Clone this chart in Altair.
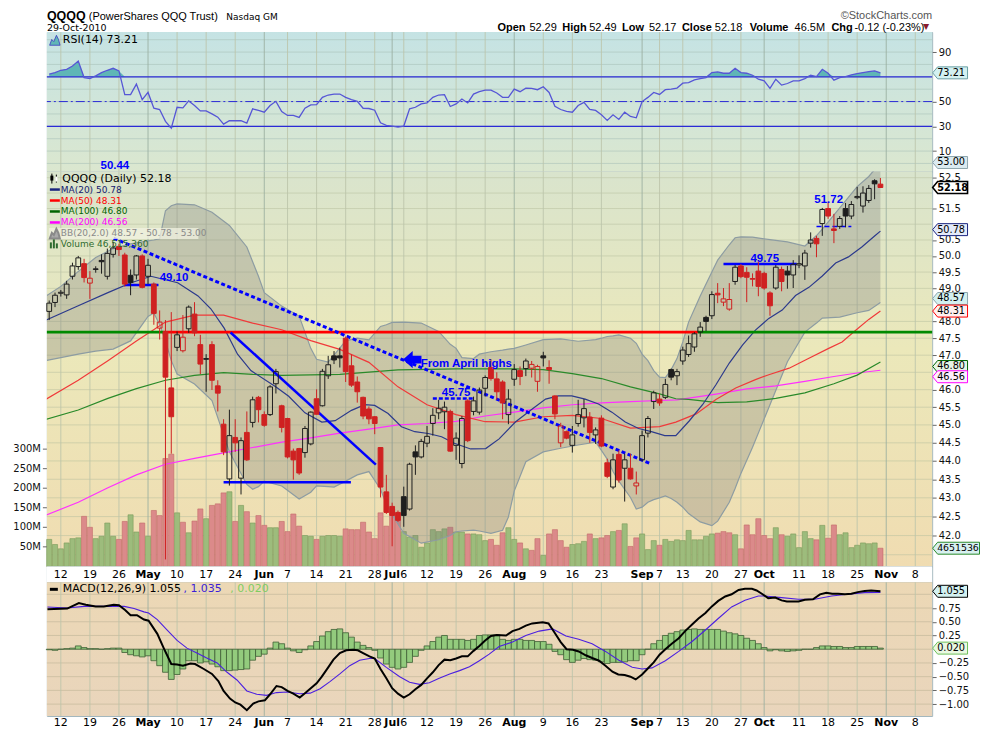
import math
import altair as alt
import numpy as np
import pandas as pd

# ===================== values =====================
# trading-day index: 0 = Mon 12-Apr-2010, first bar (-2) = 8-Apr-2010, last (141) = 29-Oct-2010
FIRST_DAY = -2

opens = [48.30, 48.57, 48.85, 48.80, 49.37, 49.67, 49.76, 49.16, 49.60, 49.86,
         49.37, 50.05, 50.30, 50.03, 49.40, 49.41, 50.00, 49.37, 49.13, 47.80,
         47.70, 46.05, 47.23, 47.13, 47.78, 48.22, 47.31, 46.90, 47.31, 46.11,
         45.02, 43.51, 44.65, 43.53, 44.79, 45.07, 45.78, 45.29, 45.29, 46.17,
         45.54, 45.18, 44.27, 44.34, 44.23, 44.47, 45.74, 45.54, 46.40, 46.98,
         46.98, 47.50, 46.69, 46.22, 45.78, 45.45, 45.23, 44.37, 43.16, 42.77,
         42.61, 43.03, 42.70, 44.25, 44.11, 44.49, 45.04, 45.34, 45.37, 45.38,
         44.43, 43.93, 45.68, 45.38, 45.36, 46.04, 46.64, 46.31, 46.22, 45.29,
         46.30, 46.55, 46.61, 46.62, 46.24, 46.98, 46.64, 45.82, 44.50, 44.81,
         44.43, 45.04, 45.20, 45.22, 44.72, 45.19, 43.95, 43.29, 44.18, 43.80,
         43.80, 43.32, 44.03, 44.77, 45.66, 45.73, 45.78, 46.58, 46.40, 46.83,
         47.02, 47.24, 47.68, 48.12, 48.17, 48.85, 48.58, 48.37, 49.21, 49.69,
         49.49, 49.30, 49.53, 49.46, 48.86, 49.01, 49.58, 49.53, 49.41, 49.72,
         49.69, 50.40, 50.55, 51.02, 51.50, 50.85, 50.93, 51.50, 51.26, 51.85,
         51.58, 51.76, 52.40, 52.29]
highs = [48.63, 48.87, 48.95, 49.23, 49.79, 50.00, 49.91, 49.53, 49.68, 50.05,
         50.23, 50.44, 50.38, 50.10, 49.58, 50.03, 50.05, 49.91, 49.18, 48.33,
         48.04, 48.28, 47.70, 48.19, 48.48, 48.58, 47.60, 47.03, 47.41, 46.27,
         45.16, 45.43, 45.16, 44.65, 45.38, 45.80, 45.82, 45.38, 46.13, 46.60,
         45.57, 45.20, 44.34, 44.36, 44.97, 45.38, 46.01, 46.60, 46.98, 47.12,
         47.22, 47.55, 47.02, 46.38, 45.80, 45.52, 45.25, 44.38, 43.62, 42.87,
         42.66, 43.30, 43.95, 44.43, 44.61, 44.97, 45.47, 45.71, 45.66, 45.43,
         44.79, 45.25, 45.73, 45.80, 46.06, 46.41, 46.88, 46.50, 46.27, 46.01,
         46.74, 46.67, 46.90, 46.83, 46.72, 47.10, 46.85, 45.84, 45.06, 44.84,
         44.97, 45.71, 45.73, 45.36, 44.93, 45.27, 44.06, 44.20, 44.29, 44.20,
         44.20, 43.71, 44.84, 45.25, 45.97, 45.89, 46.31, 46.61, 46.60, 47.25,
         47.58, 47.68, 47.98, 48.17, 48.91, 49.16, 49.01, 49.16, 49.72, 49.75,
         49.65, 49.46, 49.87, 49.51, 48.91, 49.72, 49.67, 49.69, 49.87, 50.02,
         50.19, 50.74, 50.63, 51.52, 51.72, 51.33, 51.26, 51.68, 51.74, 52.20,
         52.22, 52.26, 52.45, 52.49]
lows = [48.04, 48.43, 48.75, 48.68, 49.27, 49.57, 49.18, 48.68, 49.48, 49.45,
        49.27, 49.95, 50.00, 49.05, 48.79, 49.27, 49.00, 49.13, 47.90, 47.46,
        41.38, 44.20, 47.12, 47.08, 47.66, 47.56, 46.45, 45.94, 45.99, 45.38,
        44.16, 43.33, 44.25, 43.09, 44.00, 44.93, 45.07, 44.95, 45.25, 45.89,
        44.79, 44.07, 43.49, 43.62, 44.09, 44.43, 45.29, 45.52, 46.31, 46.74,
        46.64, 46.22, 46.08, 45.63, 45.16, 45.02, 44.74, 43.01, 42.57, 41.72,
        42.36, 42.23, 42.66, 43.62, 44.07, 44.38, 44.70, 45.16, 44.88, 44.25,
        44.03, 43.80, 44.52, 45.27, 45.29, 45.80, 46.26, 45.71, 45.16, 45.02,
        46.11, 46.13, 46.39, 46.35, 45.94, 46.67, 46.17, 45.16, 44.38, 44.60,
        44.23, 44.95, 44.93, 44.50, 44.47, 44.38, 43.53, 43.23, 43.41, 42.90,
        43.49, 43.09, 43.99, 44.65, 45.45, 45.54, 45.73, 46.27, 46.13, 46.72,
        46.95, 47.10, 47.54, 47.71, 48.07, 48.55, 48.46, 48.32, 49.11, 49.31,
        48.58, 49.06, 48.76, 48.96, 48.17, 48.96, 48.91, 48.99, 49.01, 49.62,
        49.26, 50.26, 49.96, 50.63, 51.17, 50.40, 50.85, 50.90, 51.16, 51.80,
        51.37, 51.68, 51.80, 52.17]
closes = [48.55, 48.79, 48.88, 49.13, 49.69, 49.94, 49.33, 49.31, 49.58, 49.82,
          50.08, 50.25, 50.20, 49.13, 49.18, 50.00, 49.03, 49.71, 48.24, 47.98,
          46.36, 45.23, 47.60, 47.53, 48.43, 47.66, 46.74, 46.88, 46.27, 45.90,
          44.25, 44.70, 44.50, 44.56, 44.03, 45.71, 45.43, 44.99, 46.08, 46.52,
          44.93, 44.11, 44.03, 43.67, 44.90, 45.36, 45.30, 46.53, 46.72, 46.86,
          46.92, 46.52, 46.13, 45.94, 45.25, 45.17, 45.04, 43.29, 42.61, 42.53,
          42.40, 42.53, 43.91, 44.11, 44.54, 44.68, 45.27, 45.47, 45.50, 44.27,
          44.63, 45.18, 44.56, 45.68, 45.99, 46.35, 46.32, 45.94, 45.62, 45.73,
          46.58, 46.38, 46.83, 46.73, 46.67, 46.92, 46.58, 45.31, 44.97, 44.63,
          44.72, 45.29, 45.46, 44.79, 44.86, 44.41, 43.58, 44.03, 43.48, 44.03,
          43.51, 43.40, 44.70, 45.18, 45.91, 45.62, 46.15, 46.36, 46.52, 47.15,
          47.34, 47.63, 47.83, 48.00, 48.81, 48.80, 48.68, 48.66, 49.65, 49.36,
          49.34, 49.28, 49.06, 49.01, 48.47, 49.65, 49.21, 49.41, 49.74, 49.76,
          50.09, 50.50, 50.38, 51.47, 51.26, 50.80, 51.18, 51.26, 51.63, 51.89,
          52.00, 52.15, 52.30, 52.18]
volumes_m = [69, 56, 45, 60, 71, 73, 128, 100, 71, 77,
             111, 77, 69, 115, 132, 88, 111, 77, 143, 130,
             276, 287, 137, 113, 86, 116, 147, 122, 156, 160,
             188, 191, 115, 156, 140, 111, 130, 105, 99, 99,
             115, 89, 134, 103, 79, 77, 69, 77, 79, 79,
             77, 96, 94, 94, 113, 88, 71, 137, 103, 147,
             126, 89, 75, 79, 49, 60, 94, 89, 96, 100,
             88, 88, 83, 83, 81, 66, 69, 54, 86, 99,
             69, 60, 45, 41, 71, 28, 83, 94, 66, 49,
             56, 58, 64, 83, 71, 73, 79, 89, 92, 109,
             51, 73, 83, 43, 66, 54, 69, 64, 68, 66,
             92, 68, 68, 77, 83, 85, 89, 86, 81, 45,
             106, 81, 122, 79, 71, 99, 81, 77, 83, 48,
             89, 71, 68, 105, 72, 106, 81, 86, 48, 54,
             60, 58, 60, 46.5]
rsi14 = [72.1, 73.4, 75.3, 76.1, 78.8, 82.8, 69.4, 68.6, 70.8, 73.4,
         75.3, 76.9, 74.8, 55.6, 55.6, 64.1, 51.6, 57.4, 44.6, 43.6,
         34.0, 28.6, 45.4, 44.9, 50.5, 46.8, 42.5, 42.5, 40.1, 37.4,
         31.8, 34.5, 34.5, 34.5, 32.6, 44.1, 42.8, 41.4, 46.8, 50.2,
         42.0, 38.8, 38.8, 37.2, 44.6, 47.3, 47.6, 53.4, 55.3, 56.1,
         56.1, 53.4, 51.6, 50.2, 44.6, 44.4, 43.0, 32.9, 30.8, 30.2,
         29.4, 30.2, 44.1, 45.4, 48.1, 48.9, 53.4, 55.3, 55.6, 46.0,
         48.1, 52.1, 48.9, 56.1, 58.0, 59.3, 59.3, 56.9, 53.4, 53.4,
         60.1, 58.0, 60.9, 60.6, 59.6, 62.0, 57.4, 46.2, 43.6, 42.0,
         41.4, 46.8, 49.4, 43.6, 42.8, 39.3, 34.8, 39.3, 35.6, 41.4,
         38.0, 36.9, 50.0, 53.4, 57.4, 55.8, 59.6, 60.1, 60.9, 64.9,
         65.4, 67.6, 68.6, 69.4, 73.4, 74.0, 72.9, 72.9, 76.9, 73.4,
         72.9, 71.3, 68.1, 66.8, 60.6, 68.1, 63.3, 64.6, 66.8, 66.8,
         68.6, 71.3, 70.2, 76.1, 72.9, 67.3, 69.4, 70.2, 71.6, 72.6,
         73.4, 74.2, 74.8, 73.21]
macd_hist = [-0.01, -0.02, 0.00, 0.01, 0.02, 0.06, 0.03, 0.01, 0.01, 0.00,
             0.01, 0.02, 0.02, -0.06, -0.10, -0.12, -0.14, -0.12, -0.21, -0.30,
             -0.42, -0.55, -0.46, -0.36, -0.21, -0.21, -0.25, -0.23, -0.27, -0.32,
             -0.39, -0.39, -0.38, -0.37, -0.36, -0.20, -0.13, -0.09, 0.02, 0.13,
             0.10, 0.02, -0.03, -0.06, -0.01, 0.06, 0.14, 0.24, 0.32, 0.36,
             0.37, 0.30, 0.22, 0.13, 0.07, 0.03, -0.02, -0.16, -0.27, -0.33,
             -0.36, -0.33, -0.24, -0.13, -0.02, 0.06, 0.14, 0.22, 0.25, 0.18,
             0.18, 0.18, 0.16, 0.18, 0.25, 0.26, 0.26, 0.26, 0.18, 0.16,
             0.18, 0.18, 0.16, 0.16, 0.14, 0.14, 0.09, -0.04, -0.10, -0.19,
             -0.24, -0.20, -0.17, -0.19, -0.20, -0.23, -0.26, -0.24, -0.24, -0.23,
             -0.21, -0.21, -0.10, 0.00, 0.10, 0.16, 0.25, 0.29, 0.32, 0.35,
             0.36, 0.37, 0.36, 0.36, 0.36, 0.36, 0.33, 0.30, 0.28, 0.25,
             0.20, 0.16, 0.10, 0.03, -0.03, -0.01, -0.03, -0.04, -0.03, -0.02,
             0.00, 0.00, 0.03, 0.06, 0.06, 0.05, 0.05, 0.03, 0.03, 0.05,
             0.05, 0.05, 0.05, 0.02]
macd_line = [(-2.3, 0.73), (1.1, 0.74), (3.1, 0.84), (4.3, 0.81), (6, 0.78), (7.4, 0.78), (9.1, 0.81),
             (10, 0.80), (11.1, 0.71), (12, 0.62), (13.1, 0.62), (14.3, 0.54), (15.1, 0.52), (16.6, 0.28),
             (17.7, 0.02), (19, -0.27), (20, -0.28), (21, -0.30), (22.3, -0.26), (23.1, -0.27), (24.6, -0.36),
             (26, -0.45), (27.1, -0.58), (28, -0.76), (29.1, -0.90), (30, -0.97), (30.9, -1.01), (32, -1.11),
             (33.1, -0.99), (34, -0.95), (35.1, -0.93), (36, -0.82), (37.1, -0.67), (38, -0.69), (39, -0.76),
             (40, -0.81), (41.1, -0.88), (42, -0.80), (43, -0.71), (44, -0.62), (44.9, -0.50), (46, -0.33),
             (46.9, -0.19), (48, -0.07), (49.1, -0.02), (50.3, -0.01), (51.1, -0.02), (52, -0.07), (53.1, -0.13),
             (54, -0.17), (55, -0.36), (56, -0.53), (57, -0.71), (58, -0.81), (59, -0.88), (60, -0.82),
             (61, -0.73), (62, -0.65), (63, -0.53), (64, -0.42), (65, -0.29), (66, -0.19), (67, -0.20),
             (68, -0.17), (69, -0.13), (70, -0.13), (71, -0.03), (72, 0.06), (73, 0.16), (74, 0.24),
             (75, 0.26), (76.6, 0.25), (77.7, 0.33), (78.9, 0.37), (80, 0.43), (81.1, 0.47), (82.9, 0.49),
             (83.9, 0.47), (84.9, 0.31), (86, 0.13), (87, 0.00), (88.1, -0.01), (89.1, -0.04), (90.3, -0.11),
             (91.4, -0.16), (92.6, -0.21), (93.7, -0.30), (94.9, -0.41), (95.9, -0.46), (97, -0.47), (98, -0.50),
             (98.9, -0.55), (100, -0.46), (100.9, -0.36), (102, -0.24), (103, -0.10), (104, 0.00), (105.1, 0.10),
             (106.3, 0.20), (107.4, 0.33), (108.6, 0.45), (109.7, 0.56), (110.9, 0.66), (112, 0.78), (113.1, 0.88),
             (114.3, 0.96), (115.4, 1.00), (116.6, 1.08), (117.7, 1.10), (118.9, 1.10), (119.7, 1.07), (120.6, 1.01),
             (121.7, 0.93), (122.9, 0.94), (124, 0.89), (124.9, 0.87), (126.9, 0.87), (128, 0.90), (129.4, 0.91),
             (130.6, 1.00), (131.7, 1.03), (132.7, 1.01), (133.7, 1.01), (134.9, 1.00), (136, 1.01), (137.1, 1.04),
             (138.3, 1.06), (139.4, 1.07), (141, 1.055)]
macd_signal = [(-2.3, 0.77), (1.1, 0.75), (4, 0.78), (6.9, 0.78), (9.4, 0.78), (10.9, 0.78), (12.6, 0.74),
               (14.3, 0.68), (15.1, 0.66), (16.6, 0.54), (18.3, 0.35), (20, 0.16), (21.7, 0.02), (23.4, -0.07),
               (25.1, -0.16), (26.9, -0.25), (28.6, -0.42), (30.3, -0.56), (32, -0.76), (33.7, -0.82), (35.4, -0.84),
               (37.1, -0.79), (38.9, -0.78), (41.1, -0.81), (42.9, -0.80), (44.6, -0.72), (46.3, -0.59), (48, -0.45),
               (49.7, -0.30), (51.4, -0.20), (53.1, -0.17), (54, -0.17), (56, -0.33), (58.3, -0.50), (60, -0.60),
               (61.7, -0.64), (63.4, -0.61), (65.1, -0.53), (66.9, -0.45), (68.6, -0.39), (70.3, -0.32), (72, -0.21),
               (73.7, -0.09), (75.4, 0.05), (77.7, 0.13), (80, 0.25), (82.3, 0.33), (84.6, 0.37), (86.9, 0.24),
               (89.1, 0.18), (91.4, 0.10), (93.7, -0.04), (96, -0.20), (98.3, -0.33), (100, -0.36), (101.7, -0.34),
               (104, -0.21), (106.3, -0.04), (108.6, 0.14), (110.9, 0.35), (113.1, 0.56), (115.4, 0.77), (117.7, 0.89),
               (120, 0.97), (121.1, 0.97), (124, 0.94), (126.9, 0.91), (129.7, 0.91), (132.6, 0.97), (135.4, 1.00),
               (138.3, 1.03), (141, 1.035)]
ma20 = [(-2.7, 48.03), (3, 48.47), (8.1, 48.87), (12.1, 49.17), (15.5, 49.37), (20.1, 49.17), (23.6, 48.77),
        (25.8, 48.38), (28.1, 47.80), (30.4, 47.03), (32.7, 46.55), (36.9, 46.09), (39.2, 45.81), (42, 45.34),
        (44.9, 45.08), (47.2, 45.12), (50, 45.41), (52.3, 45.57), (54, 45.55), (56.3, 45.32), (58.6, 44.95),
        (60.9, 44.81), (63.2, 44.76), (65.5, 44.67), (67.7, 44.49), (70.5, 44.33), (73.1, 44.34), (75.4, 44.61),
        (78.2, 45.08), (81.1, 45.45), (83.4, 45.73), (85.6, 45.82), (87.9, 45.82), (90.2, 45.73), (92.5, 45.59),
        (94.8, 45.36), (97.1, 45.08), (99.4, 44.90), (101.6, 44.81), (103.9, 44.70), (105.8, 44.70), (108.1, 45.11),
        (110.4, 45.57), (112.7, 46.14), (115, 46.77), (117.3, 47.30), (119.5, 47.74), (121.8, 48.09), (124.1, 48.34),
        (126.4, 48.78), (128.7, 49.03), (131, 49.38), (133.3, 49.78), (135.5, 49.97), (137.8, 50.28), (140.1, 50.64),
        (141, 50.78)]
ma50 = [(-2.7, 45.71), (3, 46.27), (8.1, 46.84), (13, 47.42), (18, 47.98), (23, 48.19), (28, 48.19), (33, 47.95),
        (38, 47.75), (43, 47.43), (48, 47.17), (53, 46.79), (58, 46.08), (63, 45.57), (68, 45.29), (73, 45.09),
        (78, 45.08), (83, 45.23), (88, 45.27), (93, 45.18), (98, 44.91), (103, 44.95), (105.8, 45.08), (109.3, 45.31),
        (112.7, 45.72), (116.1, 46.05), (119.5, 46.29), (121.8, 46.43), (125.3, 46.62), (128.7, 46.91), (132.1, 47.20),
        (134.4, 47.39), (136.7, 47.73), (139, 48.06), (141, 48.31)]
ma100 = [(-2.7, 45.15), (3, 45.42), (8.1, 45.75), (13, 46.03), (18, 46.27), (23, 46.41), (28, 46.49), (33, 46.44),
         (38, 46.41), (48, 46.44), (58, 46.57), (68, 46.60), (78, 46.60), (83, 46.58), (88, 46.46), (93, 46.32),
         (98, 46.08), (103, 45.88), (105.8, 45.74), (108, 45.72), (113, 45.63), (118, 45.65), (123, 45.75),
         (128, 45.91), (133, 46.17), (137, 46.42), (141, 46.80)]
ma200 = [(-2.7, 42.53), (3, 42.88), (8.1, 43.27), (13, 43.62), (18, 43.91), (23, 44.07), (28, 44.22), (33, 44.37),
         (38, 44.52), (43, 44.64), (48, 44.77), (53, 44.88), (58, 45.00), (63, 45.04), (68, 45.10), (73, 45.25),
         (78, 45.36), (83, 45.48), (88, 45.57), (93, 45.62), (98, 45.66), (103, 45.69), (106, 45.71), (113, 45.88),
         (118, 46.02), (123, 46.11), (128, 46.24), (133, 46.38), (137, 46.48), (141, 46.56)]
bb_index = [-2.4, 0, 3, 6, 9, 12, 15, 16, 17, 18, 19, 20, 23, 26, 29, 32, 33, 34, 35, 38,
            41, 43, 44, 46, 47, 49, 51, 53, 55, 56, 57, 59, 62, 65, 67, 68, 69, 71, 72, 74,
            76, 77, 78, 80, 83, 86, 89, 92, 93, 94, 95, 96, 98, 99, 100, 101, 102, 103, 104, 105,
            106, 107, 108, 110, 112, 113, 115, 116, 117, 119, 122, 125, 128, 130, 131, 134, 137, 139, 141]
bb_upper = [48.78, 49.06, 49.52, 49.95, 50.23, 50.38, 50.47, 50.50, 50.54, 51.43, 51.59, 51.65, 51.62, 51.38,
            50.96, 50.28, 49.82, 49.37, 48.87, 48.46, 48.16, 47.20, 46.88, 46.80, 47.00, 47.42, 47.50, 47.45,
            47.85, 47.90, 47.97, 47.98, 47.95, 47.70, 47.32, 47.20, 46.93, 46.90, 47.03, 47.10, 47.15, 47.18,
            47.20, 47.30, 47.46, 47.48, 47.41, 47.46, 47.50, 47.55, 47.57, 47.60, 47.50, 47.35, 47.03, 46.84,
            46.55, 46.36, 46.35, 46.58, 46.90, 47.39, 47.98, 48.77, 49.50, 49.87, 50.35, 50.57, 50.60, 50.59,
            50.51, 50.44, 50.31, 50.64, 50.84, 51.52, 52.21, 52.54, 53.00]
bb_lower = [46.85, 46.93, 47.03, 47.12, 47.18, 47.42, 48.15, 48.25, 47.90, 47.42, 46.84, 46.45, 46.16, 45.69,
            44.25, 43.36, 43.23, 43.30, 43.45, 43.32, 42.97, 43.15, 43.32, 43.30, 43.29, 43.45, 43.62, 43.71,
            43.23, 42.83, 42.55, 42.06, 41.80, 41.89, 42.00, 42.10, 42.12, 42.14, 42.12, 42.06, 42.14, 42.49,
            43.18, 43.98, 44.25, 44.35, 44.44, 44.52, 44.29, 44.05, 43.71, 43.45, 43.01, 42.70, 42.75, 42.88,
            42.95, 43.00, 43.05, 42.98, 42.88, 42.75, 42.58, 42.36, 42.26, 42.38, 42.88, 43.25, 43.66, 44.38,
            45.57, 46.81, 47.68, 47.95, 48.10, 48.13, 48.26, 48.33, 48.57]
# horizontal resistance / support line at 47.68 : colour changes along the way
hline_level = 47.68
hline_from = [-2.4, 17.7, 109.6]
hline_to = [17.7, 109.6, 149.9]
hline_color = ["green", "red", "green"]
# hand drawn annotations (trading-day index, price)
trend_dashed = [(9.1, 50.55), (101.5, 43.92)]
trend_solid = [(29.2, 47.67), (54.2, 43.90)]
support_line = [(28.0, 43.42), (49.9, 43.42)]
level_4910 = [(11.0, 49.10), (16.8, 49.10)]
level_4575 = [(64.0, 45.75), (71.0, 45.75)]
level_4975 = [(114.0, 49.75), (126.6, 49.75)]
level_5172 = [(130.0, 50.93), (136.0, 50.93)]
note_texts = ["50.44", "45.75", "49.75", "51.72"]
note_index = [9.3, 68.0, 121.1, 132.1]
note_price = [52.87, 45.89, 49.89, 51.78]
# x-axis ticks
tick_index = [0, 5, 10, 15, 20, 25, 30, 35, 39, 44, 49, 54, 57, 59, 63, 68, 73, 78, 83, 88, 93,
              100, 103, 107, 112, 117, 121, 127, 132, 137, 142, 147]
tick_text = ["12", "19", "26", "May", "10", "17", "24", "Jun", "7", "14", "21", "28", "Jul", "6",
             "12", "19", "26", "Aug", "9", "16", "23", "Sep", "7", "13", "20", "27", "Oct", "11",
             "18", "25", "Nov", "8"]
month_names = ["May", "Jun", "Jul", "Aug", "Sep", "Oct", "Nov"]
# grid lines and the axis labels that stay visible (the others sit under the value tags)
rsi_grid = [0, 10, 20, 30, 40, 50, 60, 70, 80, 90, 100]
rsi_labels = [10, 30, 50, 90]
price_grid = [41.5, 42.0, 42.5, 43.0, 43.5, 44.0, 44.5, 45.0, 45.5, 46.0, 46.5, 47.0, 47.5,
              48.0, 48.5, 49.0, 49.5, 50.0, 50.5, 51.0, 51.5, 52.0, 52.5]
price_labels = [42.0, 42.5, 43.0, 43.5, 44.0, 44.5, 45.0, 45.5, 46.0, 47.0, 47.5,
                48.0, 49.0, 49.5, 50.0, 50.5, 51.5, 52.5]
volume_ticks = [50, 100, 150, 200, 250, 300]
macd_grid = [-1.0, -0.75, -0.5, -0.25, 0.0, 0.25, 0.5, 0.75, 1.0]
macd_labels = [-1.0, -0.75, -0.5, -0.25, 0.25, 0.5, 0.75]
# last values shown in the legends / value tags
rsi_last = 73.21
bb_last = [48.57, 50.78, 53.00]
ma_last = [50.78, 48.31, 46.80, 46.56]
close_last = 52.18
volume_last_m = 46.515360
macd_last = [1.055, 1.035, 0.020]

# ===================== layout =====================
W = 888
H_RSI, H_PRICE, H_STRIP, H_MACD = 140, 396, 16, 134
P_LO, P_HI = 41.2, 52.7
VOL_TOP = 1010.0
XS = alt.Scale(domain=[-2.4, 149.9], nice=False, zero=False)
SCALES = {
    "rsi": alt.Scale(domain=[-6.6, 106.2], nice=False, zero=False),
    "price": alt.Scale(type="log", domain=[P_LO, P_HI], nice=False, zero=False),
    "macd": alt.Scale(domain=[-1.215, 1.218], nice=False, zero=False),
}
AXIS_KW = dict(orient="right", tickSize=4, labelPadding=2, grid=False, domain=False, title=None,
               labelFont="DejaVu Sans", labelFontSize=10, labelColor="#111111", tickColor="#666666")
AXES = {
    "rsi": alt.Axis(values=rsi_labels, format="d", **AXIS_KW),
    "price": alt.Axis(values=price_labels, format=".1f", **AXIS_KW),
    "macd": alt.Axis(values=macd_labels, format=".2f", **AXIS_KW),
}
# volume is drawn in the lower part of the price panel: linear in pixels -> mapped onto the log price scale
VOL_EXPR = f"{P_LO}*exp(datum.v/{VOL_TOP}*{math.log(P_HI / P_LO)})"
ONE = pd.DataFrame({"k": [0]})
SANS = "DejaVu Sans"
ARIAL = "Liberation Sans"


def xq(field="i"):
    return alt.X(f"{field}:Q", scale=XS, axis=None)


def yq(field, panel):
    return alt.Y(f"{field}:Q", scale=SCALES[panel], axis=AXES[panel])


def text(s, x, y, size=11, color="#000000", weight="normal", font=SANS, align="left", baseline="middle"):
    return alt.Chart(ONE).mark_text(text=s, fontSize=size, color=color, fontWeight=weight, font=font,
                                    align=align, baseline=baseline).encode(x=alt.value(x), y=alt.value(y))


def hrule(x0, x1, y, color, width=2.5):
    return alt.Chart(ONE).mark_rule(color=color, strokeWidth=width).encode(
        x=alt.value(x0), x2=alt.value(x1), y=alt.value(y))


def vrule(x, y0, y1, color, width=1.0):
    return alt.Chart(ONE).mark_rule(color=color, strokeWidth=width).encode(
        x=alt.value(x), y=alt.value(y0), y2=alt.value(y1))


def background(h, stops):
    grad = alt.LinearGradient(gradient="linear", x1=0, y1=0, x2=0, y2=1,
                              stops=[alt.GradientStop(offset=o, color=c) for o, c in stops])
    return alt.Chart(ONE).mark_rect(color=grad).encode(
        x=alt.value(0), x2=alt.value(W), y=alt.value(0), y2=alt.value(h))


ticks_df = pd.DataFrame({"i": tick_index, "t": tick_text})
ticks_df["month"] = ticks_df["t"].isin(month_names)
ticks_df["gcol"] = np.where(ticks_df["month"], "#9aae9f", "#bcc4aa")


def vgrid():
    return alt.Chart(ticks_df).mark_rule(strokeWidth=1, opacity=0.85).encode(
        x=xq(), color=alt.Color("gcol:N", scale=None))


def hgrid(values, panel, color, opacity):
    return alt.Chart(pd.DataFrame({"g": values})).mark_rule(color=color, strokeWidth=1, opacity=opacity).encode(
        y=yq("g", panel))


def xlabels(y):
    normal = alt.Chart(ticks_df[~ticks_df["month"]]).mark_text(
        font=SANS, fontSize=11, baseline="middle", color="#000000").encode(x=xq(), y=alt.value(y), text="t:N")
    bold = alt.Chart(ticks_df[ticks_df["month"]]).mark_text(
        font=SANS, fontSize=11, fontWeight="bold", baseline="middle", color="#000000").encode(
        x=xq(), y=alt.value(y), text="t:N")
    return [normal, bold]


SMALL_TAG = "M-1,0L-0.714,-0.343L1,-0.343L1,0.343L-0.714,0.343Z"
WIDE_TAG = "M-1,0L-0.787,-0.255L1,-0.255L1,0.255L-0.787,0.255Z"


def tag(value, label, panel, fill, stroke, bold=False, wide=False, tcolor="#000000", volume=False, shift=0.0):
    d = pd.DataFrame({"v": [value], "t": [label]})
    if wide:
        path, size, cx = WIDE_TAG, 47 * 47, W + 24
    else:
        path, size, cx = SMALL_TAG, 35 * 35, W + 18
    if volume:
        base = alt.Chart(d).transform_calculate(vp=VOL_EXPR).encode(y=yq("vp", panel))
    else:
        base = alt.Chart(d).encode(y=yq("v", panel))
    shape = base.mark_point(shape=path, size=size, filled=True, fill=fill, stroke=stroke, opacity=1,
                            strokeWidth=1.6 if bold else 1, yOffset=shift).encode(x=alt.value(cx))
    lab = base.mark_text(align="left", baseline="middle", font=SANS, fontSize=9.4 if wide else 9.8,
                         fontWeight="bold" if bold else "normal", color=tcolor, yOffset=shift).encode(
        x=alt.value(W + 5), text="t:N")
    return [shape, lab]


def pts_df(pts, yname="y"):
    return pd.DataFrame({"i": [p[0] for p in pts], yname: [p[1] for p in pts]})


# ===================== RSI panel =====================
idx = list(range(FIRST_DAY, FIRST_DAY + len(closes)))
rsi_df = pd.DataFrame({"i": idx, "r": rsi14})

rsi_layers = [
    background(H_RSI, [(0, "#c5e3e4"), (1, "#dbe7cf")]),
    hgrid(rsi_grid, "rsi", "#a9c2bb", 0.6),
    vgrid(),
    alt.Chart(rsi_df).transform_calculate(top="max(datum.r, 70)", base="70").mark_area(color="#5fb6b6").encode(
        x=xq(), y=yq("top", "rsi"), y2="base:Q"),
    alt.Chart(rsi_df).transform_calculate(bot="min(datum.r, 30)", base="30").mark_area(color="#5fb6b6").encode(
        x=xq(), y=yq("bot", "rsi"), y2="base:Q"),
    alt.Chart(pd.DataFrame({"g": [70, 30]})).mark_rule(color="#2b2bd6", strokeWidth=1.3).encode(y=yq("g", "rsi")),
    alt.Chart(pd.DataFrame({"g": [50]})).mark_rule(color="#2b2bd6", strokeWidth=1,
                                                     strokeDash=[9, 3, 2, 3]).encode(y=yq("g", "rsi")),
    alt.Chart(rsi_df).mark_line(color="#5656d6", strokeWidth=1.3).encode(x=xq(), y=yq("r", "rsi")),
    alt.Chart(ONE).mark_point(shape="M-1,1L-0.6,-0.1L-0.2,0.3L0.3,-0.9L0.7,-0.1L1,1Z", size=110, filled=True,
                              fill="#5fb6b6", stroke="#3a3ac0", strokeWidth=0.8, opacity=1).encode(
        x=alt.value(8), y=alt.value(8)),
    text(f"RSI(14) {rsi_last:.2f}", 16, 8, size=11),
    # page header
    text("QQQQ", 0, -12, size=12.5, weight="bold", font=ARIAL, baseline="alphabetic"),
    text("(PowerShares QQQ Trust)", 42, -12, size=11, font=ARIAL, baseline="alphabetic"),
    text("Nasdaq GM", 180, -12, size=9, baseline="alphabetic"),
    text("29-Oct-2010", 0, -1.2, size=9.5, baseline="alphabetic"),
    text("\u00a9StockCharts.com", W, -13, size=11, color="#555555", font=ARIAL, align="right",
         baseline="alphabetic"),
]
hdr = [("Open", W - 436, True), ("52.29", W - 404, False), ("High", W - 371, True), ("52.49", W - 344, False),
       ("Low", W - 311, True), ("52.17", W - 284, False), ("Close", W - 251, True), ("52.18", W - 218, False),
       ("Volume", W - 183, True), ("46.5M", W - 138, False), ("Chg", W - 101, True),
       ("-0.12 (-0.23%)", W - 78, False)]
for s, x, b in hdr:
    rsi_layers.append(text(s, x, -1.5, size=11, weight="bold" if b else "normal", font=ARIAL,
                           baseline="alphabetic"))
rsi_layers.append(text("\u25bc", W - 6, -3, size=8, color="#8b1c2c", align="center", baseline="alphabetic"))
rsi_layers += tag(rsi_last, f"{rsi_last:.2f}", "rsi", "#d3f1f1", "#6aa0a4")

rsi_chart = alt.layer(*rsi_layers).properties(width=W, height=H_RSI)

# ===================== price panel =====================
df = pd.DataFrame({"i": idx, "o": opens, "h": highs, "l": lows, "c": closes, "v": volumes_m})
prev = df["c"].shift(1).fillna(df["o"])
df["up"] = df["c"] >= prev
df["edge"] = np.where(df["up"], "#1e1e1e", "#cf2121")
df["fo"] = np.where(df["c"] >= df["o"], 0.0, 1.0)
df["blo"] = df[["o", "c"]].min(axis=1)
df["bhi"] = df[["o", "c"]].max(axis=1)
df["x0"] = df["i"] - 0.41
df["x1"] = df["i"] + 0.41
df["vx0"] = df["i"] - 0.44
df["vx1"] = df["i"] + 0.44
df["vfill"] = np.where(df["up"], "#9dbc7c", "#db8a8a")
df["vstroke"] = np.where(df["up"], "#7a9a5a", "#c26a6a")
df["vb"] = P_LO

bb = pd.DataFrame({"i": bb_index, "u": bb_upper, "lo": bb_lower})
hl = pd.DataFrame({"x0": hline_from, "x1": hline_to, "p": [hline_level] * 3,
                   "col": ["#008a00" if c == "green" else "#ff0000" for c in hline_color]})
vt = pd.DataFrame({"v": volume_ticks})

price_layers = [
    background(H_PRICE, [(0, "#d9e4cd"), (0.45, "#ebe8ba"), (1, "#f0dcb1")]),
    hgrid(price_grid, "price", "#b9c0a0", 0.55),
    vgrid(),
    alt.Chart(df).transform_calculate(vp=VOL_EXPR).mark_rect(strokeWidth=0.6).encode(
        x=alt.X("vx0:Q", scale=XS, axis=None), x2="vx1:Q",
        y=yq("vp", "price"), y2="vb:Q",
        fill=alt.Fill("vfill:N", scale=None), stroke=alt.Stroke("vstroke:N", scale=None)),
    # left volume axis (labels + ticks)
    alt.Chart(vt).transform_calculate(vp=VOL_EXPR, lab="datum.v + 'M'").mark_text(
        align="right", baseline="middle", font=SANS, fontSize=10, color="#111111").encode(
        x=alt.value(-6), y=yq("vp", "price"), text="lab:N"),
    alt.Chart(vt).transform_calculate(vp=VOL_EXPR).mark_rule(color="#666666", strokeWidth=1).encode(
        x=alt.value(-4), x2=alt.value(0), y=yq("vp", "price")),
    alt.Chart(bb).mark_area(clip=True, color="#7c7c7c", opacity=0.30).encode(
        x=xq(), y=yq("lo", "price"), y2="u:Q"),
    alt.Chart(bb).mark_line(clip=True, color="#8d9ca2", strokeWidth=1.2).encode(x=xq(), y=yq("u", "price")),
    alt.Chart(bb).mark_line(clip=True, color="#8d9ca2", strokeWidth=1.2).encode(x=xq(), y=yq("lo", "price")),
]
for pts, col in [(ma200, "#ff30ff"), (ma100, "#2a8a2a"), (ma50, "#f03a3a"), (ma20, "#2c3a8c")]:
    price_layers.append(alt.Chart(pts_df(pts)).mark_line(clip=True, color=col, strokeWidth=1.2).encode(
        x=xq(), y=yq("y", "price")))
price_layers.append(alt.Chart(hl).mark_rule(strokeWidth=2.6).encode(
    x=alt.X("x0:Q", scale=XS, axis=None), x2="x1:Q", y=yq("p", "price"), color=alt.Color("col:N", scale=None)))
# annotation lines
for pts, dash, wdt in [(trend_dashed, [4, 2.5], 3), (trend_solid, None, 2.5), (support_line, None, 2.5),
                       (level_4910, None, 2.5), (level_4575, [4, 2], 2.5), (level_4975, None, 2.5),
                       (level_5172, [5, 3], 1.5)]:
    kw = dict(color="#0000ff", strokeWidth=wdt)
    if dash:
        kw["strokeDash"] = dash
    price_layers.append(alt.Chart(pts_df(pts)).mark_line(**kw).encode(x=xq(), y=yq("y", "price")))
# candles
price_layers += [
    alt.Chart(df).mark_rule(strokeWidth=1).encode(
        x=xq(), y=yq("l", "price"), y2="blo:Q", color=alt.Color("edge:N", scale=None)),
    alt.Chart(df).mark_rule(strokeWidth=1).encode(
        x=xq(), y=yq("bhi", "price"), y2="h:Q", color=alt.Color("edge:N", scale=None)),
    alt.Chart(df).mark_rect(strokeWidth=1).encode(
        x=alt.X("x0:Q", scale=XS, axis=None), x2="x1:Q",
        y=yq("o", "price"), y2="c:Q",
        fill=alt.Fill("edge:N", scale=None), fillOpacity=alt.FillOpacity("fo:Q", scale=None),
        stroke=alt.Stroke("edge:N", scale=None)),
]
# annotation texts
notes = pd.DataFrame({"i": note_index, "p": note_price, "t": note_texts})
price_layers += [
    alt.Chart(notes).mark_text(font=ARIAL, fontSize=11.5, fontWeight="bold", color="#0000ff",
                               baseline="middle").encode(x=xq(), y=yq("p", "price"), text="t:N"),
    alt.Chart(pd.DataFrame({"i": [17.0], "p": [49.31], "t": ["49.10"]})).mark_text(
        font=ARIAL, fontSize=11.5, fontWeight="bold", color="#0000ff", align="left", baseline="middle").encode(
        x=xq(), y=yq("p", "price"), text="t:N"),
    alt.Chart(pd.DataFrame({"i": [61.9], "p": [46.74], "t": ["From April highs"]})).mark_text(
        font=ARIAL, fontSize=11.5, fontWeight="bold", color="#0000ff", align="left", baseline="middle").encode(
        x=xq(), y=yq("p", "price"), text="t:N"),
    alt.Chart(pd.DataFrame({"i": [60.5], "p": [46.87]})).mark_point(
        shape="M-1,0L-0.1,-0.8L-0.1,-0.35L1,-0.35L1,0.35L-0.1,0.35L-0.1,0.8Z", size=256, filled=True,
        fill="#0000ff", stroke="#0000ff", opacity=1).encode(x=xq(), y=yq("p", "price")),
]
# legend block
price_layers += [
    vrule(5, 2, 12, "#000000", 1), vrule(5, 4, 9, "#000000", 3), vrule(9.5, 3, 11, "#000000", 1),
    vrule(9.5, 5, 10, "#ffffff", 2),
    text(f"QQQQ (Daily) {close_last:.2f}", 15.5, 7, size=11),
    hrule(3, 13, 18, "#1a237e"), text(f"MA(20) {ma_last[0]:.2f}", 14, 18, size=9, color="#14206e"),
    hrule(3, 13, 29, "#ff0000"), text(f"MA(50) {ma_last[1]:.2f}", 14, 29, size=9, color="#ff0000"),
    hrule(3, 13, 40, "#006400"), text(f"MA(100) {ma_last[2]:.2f}", 14, 40, size=9, color="#006400"),
    hrule(3, 13, 51, "#ff00ff"), text(f"MA(200) {ma_last[3]:.2f}", 14, 51, size=9, color="#ff00ff"),
    alt.Chart(ONE).mark_rect(color="#f1f1e2", opacity=0.75).encode(
        x=alt.value(2), x2=alt.value(152), y=alt.value(56.5), y2=alt.value(67.5)),
    alt.Chart(ONE).mark_point(shape="M-1,1L-0.6,-0.1L-0.2,0.3L0.3,-0.9L0.7,-0.1L1,1Z", size=100, filled=True,
                              fill="#a9a9a9", stroke="#8a8a8a", opacity=1).encode(x=alt.value(8), y=alt.value(62)),
    text(f"BB(20,2.0) {bb_last[0]:.2f} - {bb_last[1]:.2f} - {bb_last[2]:.2f}", 14, 62, size=9, color="#8a8a8a"),
    vrule(4, 77, 71, "#2e6b2e", 2), vrule(7, 77, 68, "#2e6b2e", 2), vrule(10, 77, 72, "#2e6b2e", 2),
    text(f"Volume {int(round(volume_last_m * 1e6)):,}", 14, 72.5, size=9, color="#2e6b2e"),
]
# value tags on the right
price_layers += tag(bb_last[2], f"{bb_last[2]:.2f}", "price", "#dbeaf0", "#8ea6ad")
price_layers += tag(ma_last[0], f"{ma_last[0]:.2f}", "price", "#e4ebfa", "#1a237e", shift=-1.5)
price_layers += tag(bb_last[0], f"{bb_last[0]:.2f}", "price", "#d3f0f0", "#8ea6ad", shift=-4)
price_layers += tag(ma_last[1], f"{ma_last[1]:.2f}", "price", "#fdf0f0", "#ff0000")
price_layers += tag(ma_last[2], f"{ma_last[2]:.2f}", "price", "#e6f5e6", "#006400", shift=4.5)
price_layers += tag(ma_last[3], f"{ma_last[3]:.2f}", "price", "#fdf0fd", "#ff00ff", shift=6.5)
price_layers += tag(close_last, f"{close_last:.2f}", "price", "#ffffff", "#000000", bold=True)
price_layers += tag(volume_last_m, f"{int(round(volume_last_m * 1e5))}", "price", "#d8f0f0", "#2a8a2a",
                    wide=True, volume=True)

price_chart = alt.layer(*price_layers).properties(width=W, height=H_PRICE)

# ===================== date strip =====================
strip_chart = alt.layer(
    alt.Chart(ONE).mark_rect(color="#ffffff").encode(
        x=alt.value(0), x2=alt.value(W), y=alt.value(0), y2=alt.value(H_STRIP)),
    *xlabels(H_STRIP / 2 + 0.5),
).properties(width=W, height=H_STRIP)

# ===================== MACD panel =====================
hist_df = pd.DataFrame({"i": idx, "hv": macd_hist})
hist_df["x0"] = hist_df["i"] - 0.5
hist_df["x1"] = hist_df["i"] + 0.5
hist_df["zero"] = 0.0

macd_layers = [
    background(H_MACD, [(0, "#ecd8b5"), (1, "#e9d5bc")]),
    hgrid(macd_grid, "macd", "#c9bd9f", 0.8),
    vgrid(),
    alt.Chart(hist_df).mark_rect(color="#93cb7d", stroke="#3f5f36", strokeWidth=0.8).encode(
        x=alt.X("x0:Q", scale=XS, axis=None), x2="x1:Q", y=yq("hv", "macd"), y2="zero:Q"),
    alt.Chart(pts_df(macd_signal)).mark_line(color="#4b1fe0", strokeWidth=1.1).encode(
        x=xq(), y=yq("y", "macd")),
    alt.Chart(pts_df(macd_line)).mark_line(color="#000000", strokeWidth=2).encode(
        x=xq(), y=yq("y", "macd")),
    hrule(3, 11, 7, "#000000", 3),
    text(f"MACD(12,26,9) {macd_last[0]:.3f}", 16, 7, size=11),
    text(f", {macd_last[1]:.3f}", 137, 7, size=11, color="#3a1fd8"),
    text(f", {macd_last[2]:.3f}", 184, 7, size=11, color="#7fcc62"),
    *xlabels(H_MACD + 7.5),
]
macd_layers += tag(macd_last[0], f"{macd_last[0]:.3f}", "macd", "#d3f1f1", "#000000")
macd_layers += tag(macd_last[2], f"{macd_last[2]:.3f}", "macd", "#eaf8e2", "#6cbf58")

macd_chart = alt.layer(*macd_layers).properties(width=W, height=H_MACD)

chart = alt.vconcat(rsi_chart, price_chart, strip_chart, macd_chart, spacing=0, bounds="flush").properties(
    padding={"left": 4, "right": 0, "top": 0, "bottom": 0}
).configure_view(stroke="#9cb2b9", strokeWidth=1)

chart.save("out.html", embed_options={"renderer": "svg", "actions": False})
